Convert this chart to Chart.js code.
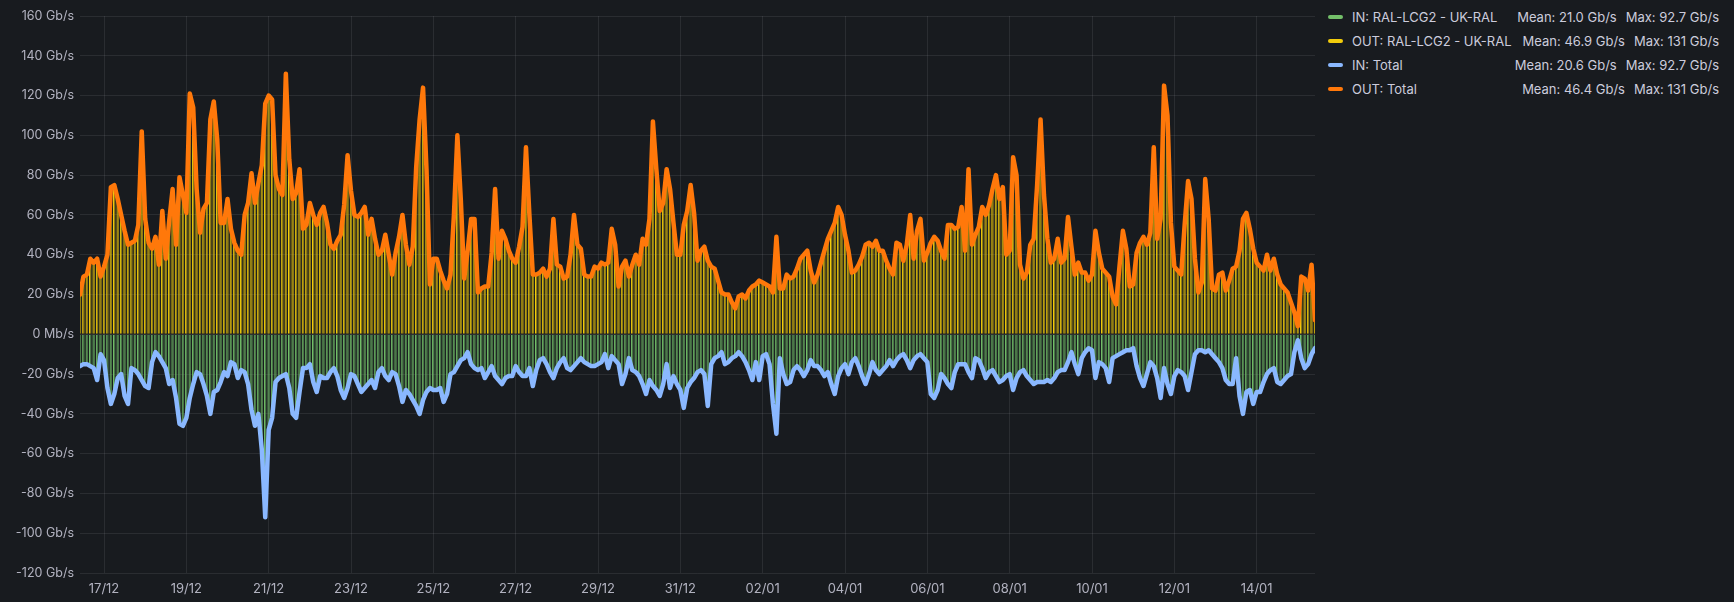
<!DOCTYPE html>
<html>
<head>
<meta charset="utf-8">
<script src="https://cdn.jsdelivr.net/npm/chart.js@4.4.0/dist/chart.umd.min.js"></script>
<style>
  html, body { margin: 0; padding: 0; background: #181b1f; }
  body { width: 1734px; height: 602px; overflow: hidden; position: relative; font-family: Inter, sans-serif; }
  #wrap { position: absolute; left: 0; top: 0; width: 1318px; height: 602px; }
  #legend { position: absolute; left: 1328px; top: 5px; width: 391px; font-size: 13px; color: #ccccdc; }
  .row { display: flex; align-items: center; height: 24px; white-space: nowrap; }
  .mark { width: 15px; height: 4px; border-radius: 2px; margin-right: 9px; }
  .name { flex: 1; }
  .mean { margin-right: 9px; }
</style>
</head>
<body>
<div id="wrap"><canvas id="chart"></canvas></div>
<div id="legend"></div>
<script>
// samples every 2 hours, first one at 16/12 10:00 (hours counted from 17/12 00:00)
const START_HOUR = -14;
const STEP_HOURS = 2;

const tickLabels = ["17/12", "19/12", "21/12", "23/12", "25/12", "27/12", "29/12", "31/12",
    "02/01", "04/01", "06/01", "08/01", "10/01", "12/01", "14/01"];

// OUT traffic, Gb/s
const outTraffic = [
    20, 29, 30, 38, 36, 38, 29, 34, 40, 74, 75, 68, 60, 52, 45, 46, 47, 55, 102, 58,
    46, 43, 49, 35, 62, 38, 57, 73, 45, 79, 70, 61, 121, 114, 73, 51, 63, 66, 108, 117,
    98, 56, 56, 68, 53, 46, 42, 40, 60, 66, 81, 66, 76, 85, 116, 120, 118, 80, 73, 70,
    131, 88, 68, 71, 83, 53, 55, 66, 60, 55, 61, 64, 56, 45, 43, 47, 50, 65, 90, 72,
    60, 59, 61, 64, 50, 58, 48, 40, 42, 50, 40, 30, 41, 49, 60, 45, 35, 44, 84, 108,
    124, 83, 25, 38, 38, 32, 27, 23, 30, 60, 100, 68, 28, 42, 58, 58, 21, 23, 24, 24,
    41, 73, 38, 52, 48, 42, 38, 36, 44, 54, 94, 60, 30, 30, 31, 33, 29, 33, 58, 35,
    34, 28, 29, 40, 60, 45, 43, 30, 29, 29, 34, 33, 36, 35, 36, 53, 45, 24, 34, 37,
    29, 35, 40, 35, 48, 45, 58, 107, 83, 62, 66, 83, 73, 56, 40, 40, 55, 62, 75, 61,
    37, 42, 44, 37, 34, 33, 27, 21, 20, 20, 16, 13, 19, 20, 18, 22, 24, 25, 27, 26,
    25, 24, 21, 49, 23, 23, 30, 28, 29, 33, 38, 40, 42, 32, 26, 30, 36, 42, 48, 52,
    56, 64, 60, 50, 42, 31, 32, 35, 39, 45, 46, 44, 47, 42, 42, 37, 33, 30, 46, 45,
    37, 45, 60, 38, 52, 58, 37, 41, 46, 49, 47, 42, 38, 55, 55, 53, 54, 64, 42, 83,
    45, 50, 54, 64, 60, 65, 73, 80, 68, 74, 40, 42, 89, 80, 35, 28, 31, 45, 48, 75,
    108, 70, 48, 36, 38, 48, 36, 38, 59, 44, 30, 36, 31, 31, 27, 30, 52, 41, 33, 31,
    29, 19, 15, 34, 52, 43, 24, 25, 41, 46, 49, 45, 51, 94, 48, 58, 125, 110, 56, 34,
    32, 30, 55, 77, 68, 38, 21, 26, 78, 58, 23, 22, 30, 31, 22, 27, 33, 34, 42, 58,
    61, 53, 43, 36, 34, 32, 40, 32, 38, 30, 25, 23, 21, 16, 11, 4, 29, 28, 22, 35,
    7
];

// IN traffic, Gb/s (drawn below zero)
const inTraffic = [
    16, 15, 15, 16, 17, 23, 10, 13, 27, 35, 30, 22, 20, 31, 35, 17, 18, 20, 23, 26,
    27, 14, 9, 11, 14, 17, 25, 23, 32, 45, 46, 42, 32, 25, 19, 20, 25, 31, 40, 29,
    28, 24, 19, 21, 14, 15, 22, 18, 19, 25, 38, 46, 40, 58, 92, 48, 42, 24, 22, 21,
    20, 27, 40, 42, 29, 17, 17, 15, 24, 29, 21, 22, 22, 19, 17, 21, 28, 32, 27, 20,
    21, 25, 29, 27, 25, 23, 27, 19, 17, 21, 23, 19, 20, 26, 34, 28, 30, 33, 36, 40,
    33, 29, 27, 28, 28, 27, 34, 30, 20, 19, 16, 13, 12, 9, 15, 17, 18, 17, 22, 19,
    16, 21, 23, 25, 22, 21, 21, 16, 19, 21, 21, 17, 26, 18, 13, 12, 15, 19, 22, 17,
    14, 12, 17, 18, 16, 14, 12, 14, 15, 16, 16, 15, 14, 10, 17, 11, 13, 15, 25, 20,
    12, 18, 19, 21, 25, 30, 23, 26, 28, 31, 25, 15, 27, 21, 25, 28, 37, 27, 24, 22,
    19, 18, 20, 36, 15, 12, 11, 9, 15, 14, 12, 11, 9, 11, 14, 18, 23, 14, 23, 11,
    10, 15, 35, 50, 12, 20, 25, 24, 18, 16, 18, 21, 18, 13, 16, 16, 18, 21, 19, 25,
    30, 21, 17, 15, 20, 14, 12, 16, 21, 25, 20, 14, 18, 20, 18, 16, 13, 16, 13, 11,
    10, 13, 17, 13, 11, 10, 12, 14, 30, 32, 28, 20, 22, 25, 27, 19, 15, 15, 15, 19,
    22, 12, 13, 17, 22, 19, 18, 21, 24, 23, 21, 20, 28, 22, 19, 18, 21, 23, 25, 24,
    24, 24, 23, 24, 22, 19, 18, 18, 14, 9, 15, 20, 12, 9, 7, 8, 22, 14, 15, 17,
    24, 12, 11, 10, 9, 8, 8, 7, 16, 22, 26, 20, 14, 16, 22, 32, 17, 25, 30, 21,
    18, 19, 21, 28, 19, 10, 8, 8, 9, 8, 10, 12, 14, 17, 23, 25, 25, 12, 31, 40,
    29, 28, 35, 29, 29, 24, 20, 18, 17, 24, 25, 23, 21, 20, 9, 3, 12, 17, 15, 10,
    7
];

const seriesNames = ["IN: RAL-LCG2 - UK-RAL", "OUT: RAL-LCG2 - UK-RAL", "IN: Total", "OUT: Total"];
const seriesColors = ["#73BF69", "#F2CC0C", "#8AB8FF", "#FF780A"];
const seriesMeans = ["21.0 Gb/s", "46.9 Gb/s", "20.6 Gb/s", "46.4 Gb/s"];
const seriesMaxes = ["92.7 Gb/s", "131 Gb/s", "92.7 Gb/s", "131 Gb/s"];

const textColor = "rgba(204, 204, 220, 0.85)";
const gridColor = "rgba(204, 204, 220, 0.1)";

const outPoints = outTraffic.map((v, i) => ({ x: START_HOUR + i * STEP_HOURS, y: v }));
const inPoints = inTraffic.map((v, i) => ({ x: START_HOUR + i * STEP_HOURS, y: -v }));

const barStyle = {
    type: "bar",
    grouped: false,
    barPercentage: 0.75,
    categoryPercentage: 1,
    borderSkipped: false,
    order: 1
};
const lineStyle = {
    type: "line",
    borderWidth: 4.5,
    pointRadius: 0,
    tension: 0,
    borderJoinStyle: "round",
    borderCapStyle: "round",
    fill: false,
    order: 0
};

new Chart(document.getElementById("chart"), {
    data: {
        datasets: [
            { ...lineStyle, label: seriesNames[3], data: outPoints, borderColor: seriesColors[3] },
            { ...lineStyle, label: seriesNames[2], data: inPoints, borderColor: seriesColors[2] },
            { ...barStyle, label: seriesNames[1], data: outPoints,
              backgroundColor: "rgba(242, 204, 12, 0.55)", borderColor: seriesColors[1],
              borderWidth: { left: 1, right: 0, top: 0, bottom: 0 } },
            { ...barStyle, label: seriesNames[0], data: inPoints,
              backgroundColor: "rgba(115, 191, 105, 0.55)", borderColor: seriesColors[0],
              borderWidth: { left: 1, right: 0, top: 0, bottom: 0 } }
        ]
    },
    options: {
        responsive: true,
        maintainAspectRatio: false,
        animation: false,
        layout: { padding: { top: 16, right: 3, bottom: 0, left: 0 } },
        plugins: { legend: { display: false }, tooltip: { enabled: false } },
        scales: {
            x: {
                type: "linear",
                offset: false,
                min: START_HOUR,
                max: START_HOUR + STEP_HOURS * (outTraffic.length - 1),
                afterBuildTicks: axis => { axis.ticks = tickLabels.map((_, k) => ({ value: k * 48 })); },
                afterFit: axis => { axis.height = 29; },
                ticks: {
                    autoSkip: false,
                    maxRotation: 0,
                    padding: 8,
                    color: textColor,
                    font: { family: "Inter", size: 13 },
                    callback: v => tickLabels[Math.round(v / 48)]
                },
                grid: { color: gridColor, drawTicks: false, offset: false },
                border: { display: false }
            },
            y: {
                min: -120,
                max: 160,
                afterFit: axis => { axis.width = 80; },
                ticks: {
                    stepSize: 20,
                    padding: 6,
                    color: textColor,
                    font: { family: "Inter", size: 12.5 },
                    callback: v => v === 0 ? "0 Mb/s" : v + " Gb/s"
                },
                grid: { color: gridColor, drawTicks: false },
                border: { display: false }
            }
        }
    }
});

// legend table on the right
const legend = document.getElementById("legend");
seriesNames.forEach((name, k) => {
    const row = document.createElement("div");
    row.className = "row";
    row.innerHTML = '<span class="mark" style="background:' + seriesColors[k] + '"></span>' +
        '<span class="name">' + name + '</span>' +
        '<span class="mean">Mean: ' + seriesMeans[k] + '</span>' +
        '<span class="max">Max: ' + seriesMaxes[k] + '</span>';
    legend.appendChild(row);
});
</script>
</body>
</html>
